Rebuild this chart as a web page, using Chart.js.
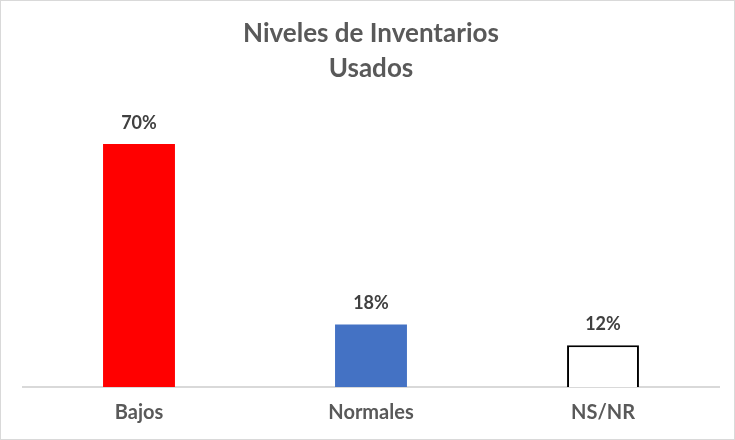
<!DOCTYPE html>
<html>
<head>
<meta charset="utf-8">
<script src="https://cdn.jsdelivr.net/npm/chart.js@4"></script>
<style>
  body { margin: 0; background: #fff; }
  #wrap { width: 733px; height: 438px; border: 1px solid #d9d9d9; }
</style>
</head>
<body>
<div id="wrap"><canvas id="chart" width="733" height="438"></canvas></div>
<script>
// Chart data
const categories = ['Bajos', 'Normales', 'NS/NR'];
const values = [70, 18, 12];
const barColors = ['#ff0000', '#4472c4', '#ffffff'];
const barBorders = ['#ff0000', '#4472c4', '#000000'];

// Draw the % labels above each bar
const valueLabels = {
    id: 'valueLabels',
    afterDatasetsDraw(chart) {
        const ctx = chart.ctx;
        const meta = chart.getDatasetMeta(0);
        ctx.save();
        ctx.font = 'bold 18px Lato, sans-serif';
        ctx.fillStyle = '#404040';
        ctx.textAlign = 'center';
        ctx.textBaseline = 'bottom';
        meta.data.forEach((bar, i) => {
            ctx.fillText(values[i] + '%', bar.x, bar.y - 12);
        });
        ctx.restore();
    }
};

const ctx = document.getElementById('chart').getContext('2d');

new Chart(ctx, {
    type: 'bar',
    data: {
        labels: categories,
        datasets: [{
            data: values,
            backgroundColor: barColors,
            borderColor: barBorders,
            borderWidth: [0, 0, 2],
            categoryPercentage: 1,
            barPercentage: 0.31
        }]
    },
    options: {
        responsive: false,
        animation: false,
        layout: { padding: { left: 22, right: 15, top: 0, bottom: 0 } },
        plugins: {
            legend: { display: false },
            tooltip: { enabled: false },
            title: {
                display: true,
                text: ['Niveles de Inventarios', 'Usados'],
                color: '#595959',
                font: { family: 'Lato, sans-serif', size: 26, weight: 'bold', lineHeight: 1.35 },
                padding: { top: 15, bottom: 23 }
            }
        },
        scales: {
            x: {
                grid: { display: false, drawTicks: false },
                border: { color: '#d9d9d9', width: 2 },
                ticks: {
                    color: '#595959',
                    font: { family: 'Lato, sans-serif', size: 20, weight: 'bold' },
                    padding: 14
                }
            },
            y: {
                display: false,
                min: 0,
                max: 80
            }
        }
    },
    plugins: [valueLabels]
});
</script>
</body>
</html>
